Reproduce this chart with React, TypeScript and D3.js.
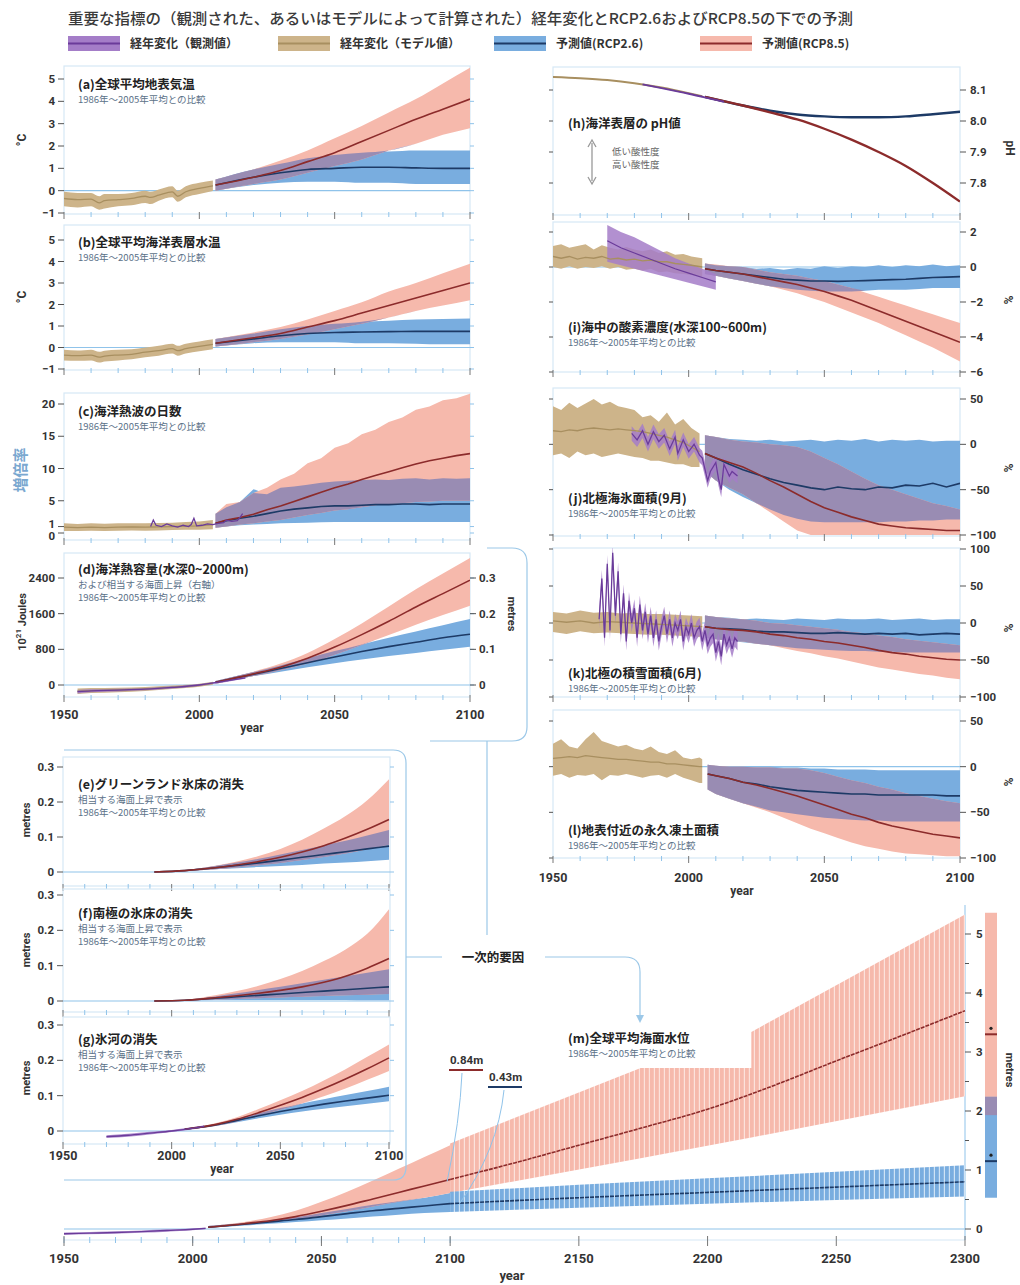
import React from "react";
import * as d3 from "d3";

// ---------------- DATA ----------------
const PROJ10 = [2006, 2020, 2030, 2040, 2050, 2060, 2070, 2080, 2090, 2100];
const PROJ5 = [2006, 2010, 2015, 2020, 2025, 2030, 2035, 2040, 2045, 2050, 2055, 2060, 2065, 2070, 2075, 2080, 2085, 2090, 2095, 2100];

// (a) global mean surface air temperature (°C)
const A_HIST_YEARS = [1950, 1955, 1960, 1963, 1965, 1970, 1975, 1980, 1982, 1985, 1990, 1992, 1995, 2000, 2005];
const A_HIST_MID = [-0.35, -0.4, -0.38, -0.55, -0.45, -0.4, -0.35, -0.25, -0.3, -0.2, -0.05, -0.25, -0.05, 0.1, 0.22];
const A_HIST_LO = [-0.7, -0.75, -0.7, -0.85, -0.8, -0.7, -0.65, -0.55, -0.6, -0.45, -0.3, -0.5, -0.3, -0.15, -0.02];
const A_HIST_HI = [-0.05, -0.1, -0.1, -0.25, -0.15, -0.15, -0.1, 0.0, -0.05, 0.05, 0.2, 0.0, 0.2, 0.35, 0.45];
const A_R85_MID = [0.25, 0.6, 0.9, 1.3, 1.7, 2.2, 2.7, 3.2, 3.65, 4.1];
const A_R85_LO = [0.0, 0.3, 0.5, 0.8, 1.1, 1.4, 1.8, 2.1, 2.5, 2.8];
const A_R85_HI = [0.5, 0.95, 1.35, 1.8, 2.35, 2.9, 3.5, 4.1, 4.8, 5.5];
const A_R26_MID = [0.25, 0.6, 0.8, 0.95, 1.0, 1.05, 1.05, 1.02, 1.0, 1.0];
const A_R26_LO = [0.0, 0.25, 0.35, 0.4, 0.4, 0.35, 0.35, 0.3, 0.3, 0.3];
const A_R26_HI = [0.5, 0.95, 1.2, 1.45, 1.6, 1.7, 1.75, 1.8, 1.8, 1.8];

// (b) global mean SST (°C)
const B_HIST_YEARS = [1950, 1955, 1960, 1963, 1965, 1970, 1975, 1980, 1985, 1990, 1992, 1995, 2000, 2005];
const B_HIST_MID = [-0.35, -0.38, -0.35, -0.45, -0.4, -0.35, -0.32, -0.22, -0.15, -0.05, -0.15, -0.05, 0.05, 0.15];
const B_HIST_LO = [-0.6, -0.62, -0.6, -0.7, -0.65, -0.6, -0.55, -0.45, -0.38, -0.28, -0.38, -0.28, -0.18, -0.08];
const B_HIST_HI = [-0.1, -0.14, -0.1, -0.2, -0.15, -0.1, -0.08, 0.0, 0.08, 0.18, 0.08, 0.18, 0.28, 0.38];
const B_R85_MID = [0.2, 0.45, 0.65, 0.95, 1.25, 1.6, 1.95, 2.3, 2.65, 3.0];
const B_R85_LO = [0.05, 0.25, 0.4, 0.6, 0.85, 1.1, 1.4, 1.7, 1.95, 2.2];
const B_R85_HI = [0.4, 0.7, 0.95, 1.3, 1.7, 2.1, 2.6, 3.0, 3.45, 3.9];
const B_R26_MID = [0.2, 0.4, 0.55, 0.65, 0.7, 0.72, 0.74, 0.75, 0.75, 0.75];
const B_R26_LO = [0.05, 0.2, 0.25, 0.25, 0.25, 0.2, 0.2, 0.18, 0.15, 0.15];
const B_R26_HI = [0.4, 0.65, 0.85, 1.0, 1.1, 1.2, 1.25, 1.3, 1.33, 1.35];

// (c) marine heatwave days (amplification factor)
const C_HIST_YEARS = [1950, 1955, 1960, 1965, 1970, 1975, 1980, 1985, 1990, 1995, 2000, 2005];
const C_HIST_MID = [0.9, 0.85, 0.9, 0.85, 0.9, 0.95, 0.9, 0.95, 1.0, 1.05, 1.1, 1.3];
const C_HIST_LO = [0.3, 0.3, 0.35, 0.3, 0.35, 0.4, 0.35, 0.4, 0.45, 0.5, 0.5, 0.6];
const C_HIST_HI = [1.5, 1.4, 1.5, 1.45, 1.5, 1.5, 1.5, 1.55, 1.6, 1.7, 1.8, 2.0];
const C_OBS_YEARS = [1982, 1983, 1984, 1986, 1988, 1990, 1992, 1994, 1996, 1997, 1998, 1999, 2001, 2003, 2005, 2007, 2009, 2010, 2012, 2014, 2015, 2016];
const C_OBS_MID = [1.0, 2.0, 1.2, 1.0, 1.4, 1.1, 0.9, 1.2, 1.0, 1.3, 2.3, 1.1, 1.2, 1.4, 1.3, 1.5, 1.6, 2.0, 1.8, 1.9, 2.4, 3.0];
const C_R85_MID = [1.5, 2.0, 2.4, 2.9, 3.6, 4.2, 4.9, 5.6, 6.3, 7.0, 7.6, 8.3, 8.9, 9.5, 10.1, 10.7, 11.2, 11.6, 12.0, 12.3];
const C_R85_LO = [0.8, 1.0, 1.3, 1.5, 1.8, 2.0, 2.4, 2.8, 3.1, 3.5, 3.7, 4.0, 4.3, 4.5, 4.6, 4.8, 4.9, 5.0, 5.0, 5.0];
const C_R85_HI = [3.0, 4.5, 4.8, 6.2, 7.0, 8.3, 9.2, 10.8, 11.6, 13.2, 13.9, 15.3, 16.0, 17.2, 17.9, 19.1, 19.6, 20.6, 20.9, 21.6];
const C_R26_MID = [1.5, 1.9, 2.3, 2.6, 3.0, 3.4, 3.7, 3.9, 4.1, 4.2, 4.2, 4.3, 4.4, 4.4, 4.5, 4.5, 4.4, 4.5, 4.5, 4.5];
const C_R26_LO = [0.8, 1.0, 1.2, 1.3, 1.4, 1.5, 1.55, 1.6, 1.65, 1.7, 1.7, 1.7, 1.7, 1.7, 1.7, 1.7, 1.7, 1.7, 1.7, 1.7];
const C_R26_HI = [3.0, 4.0, 4.8, 6.8, 6.0, 7.0, 7.2, 7.5, 7.8, 8.0, 8.1, 8.2, 8.3, 8.2, 8.4, 8.5, 8.3, 8.5, 8.4, 8.5];

// (d) ocean heat content 0-2000m (10^21 J) and equivalent sea level (m, right axis)
const D_HIST_YEARS = [1955, 1960, 1970, 1980, 1990, 2000, 2005];
const D_HIST_MID = [-140, -125, -110, -90, -50, -5, 40];
const D_HIST_LO = [-200, -180, -160, -135, -90, -40, 5];
const D_HIST_HI = [-80, -70, -60, -45, -10, 30, 75];
const D_OBS_YEARS = [1955, 1960, 1970, 1980, 1990, 2000, 2010, 2017];
const D_OBS_MID = [-150, -130, -115, -95, -55, 0, 90, 160];
const D_OBS_LO = [-190, -165, -145, -120, -80, -20, 70, 140];
const D_OBS_HI = [-110, -95, -85, -70, -30, 20, 110, 180];
const D_R85_MID = [60, 250, 400, 600, 850, 1130, 1430, 1750, 2050, 2350];
const D_R85_LO = [30, 200, 330, 480, 680, 900, 1120, 1350, 1570, 1780];
const D_R85_HI = [90, 300, 480, 720, 1030, 1380, 1760, 2150, 2500, 2850];
const D_R26_MID = [60, 240, 370, 500, 630, 750, 860, 960, 1060, 1140];
const D_R26_LO = [30, 200, 300, 400, 490, 570, 650, 720, 790, 860];
const D_R26_HI = [90, 290, 440, 600, 760, 910, 1060, 1200, 1340, 1480];
const D_METRE_TICKS = [0, 0.1, 0.2, 0.3];

// (e) Greenland, (f) Antarctic ice sheet (m sea-level equivalent)
const EF_YEARS = [1992, 2006, 2020, 2030, 2040, 2050, 2060, 2070, 2080, 2090, 2100];
const E_R85_MID = [0, 0.004, 0.012, 0.02, 0.03, 0.042, 0.057, 0.075, 0.097, 0.122, 0.15];
const E_R85_LO = [0, 0.003, 0.008, 0.013, 0.019, 0.026, 0.034, 0.043, 0.053, 0.065, 0.078];
const E_R85_HI = [0, 0.005, 0.018, 0.03, 0.046, 0.066, 0.092, 0.124, 0.16, 0.205, 0.265];
const E_R26_MID = [0, 0.004, 0.012, 0.019, 0.026, 0.034, 0.042, 0.05, 0.058, 0.066, 0.074];
const E_R26_LO = [0, 0.003, 0.008, 0.011, 0.014, 0.017, 0.02, 0.024, 0.027, 0.031, 0.035];
const E_R26_HI = [0, 0.005, 0.017, 0.027, 0.038, 0.05, 0.063, 0.076, 0.089, 0.104, 0.12];
const F_R85_MID = [0, 0.002, 0.009, 0.015, 0.022, 0.03, 0.04, 0.053, 0.07, 0.093, 0.12];
const F_R85_LO = [0, 0.001, 0.004, 0.006, 0.008, 0.01, 0.012, 0.014, 0.016, 0.018, 0.02];
const F_R85_HI = [0, 0.003, 0.016, 0.028, 0.043, 0.062, 0.085, 0.113, 0.146, 0.19, 0.26];
const F_R26_MID = [0, 0.002, 0.008, 0.012, 0.016, 0.02, 0.024, 0.028, 0.032, 0.036, 0.04];
const F_R26_LO = [0, 0.001, 0.003, 0.003, 0.003, 0.003, 0.003, 0.003, 0.003, 0.002, 0.002];
const F_R26_HI = [0, 0.003, 0.013, 0.022, 0.031, 0.04, 0.05, 0.06, 0.07, 0.08, 0.09];

// (g) glaciers
const G_OBS_YEARS = [1970, 1980, 1990, 2000, 2010, 2015];
const G_OBS_MID = [-0.016, -0.012, -0.006, 0, 0.008, 0.013];
const G_OBS_LO = [-0.02, -0.016, -0.01, -0.003, 0.005, 0.01];
const G_OBS_HI = [-0.012, -0.008, -0.002, 0.003, 0.011, 0.016];
const G_R85_MID = [0.005, 0.018, 0.033, 0.052, 0.073, 0.095, 0.12, 0.147, 0.176, 0.207];
const G_R85_LO = [0.004, 0.014, 0.027, 0.043, 0.06, 0.078, 0.098, 0.12, 0.145, 0.17];
const G_R85_HI = [0.006, 0.022, 0.039, 0.062, 0.087, 0.113, 0.143, 0.175, 0.21, 0.245];
const G_R26_MID = [0.005, 0.017, 0.03, 0.043, 0.055, 0.066, 0.076, 0.085, 0.093, 0.101];
const G_R26_LO = [0.004, 0.014, 0.025, 0.036, 0.046, 0.055, 0.063, 0.07, 0.077, 0.084];
const G_R26_HI = [0.006, 0.02, 0.035, 0.05, 0.065, 0.078, 0.09, 0.102, 0.113, 0.125];

// (h) surface ocean pH
const H_HIST_YEARS = [1950, 1960, 1970, 1980, 1990, 2000, 2005];
const H_HIST_MID = [8.142, 8.138, 8.132, 8.122, 8.108, 8.09, 8.08];
const H_OBS_YEARS = [1983, 1990, 2000, 2010, 2013];
const H_OBS_MID = [8.118, 8.106, 8.088, 8.068, 8.062];
const H_R26_MID = [8.078, 8.05, 8.033, 8.021, 8.015, 8.012, 8.012, 8.015, 8.022, 8.03];
const H_R85_MID = [8.078, 8.05, 8.028, 8.005, 7.975, 7.94, 7.9, 7.855, 7.8, 7.74];

// (i) ocean oxygen 100-600 m (%)
const I_HIST_YEARS = [1950, 1953, 1956, 1959, 1962, 1965, 1968, 1971, 1974, 1977, 1980, 1983, 1986, 1989, 1992, 1995, 1998, 2001, 2005];
const I_HIST_MID = [0.6, 0.5, 0.6, 0.45, 0.55, 0.5, 0.6, 0.45, 0.5, 0.4, 0.45, 0.35, 0.4, 0.3, 0.3, 0.2, 0.15, 0.1, 0.0];
const I_HIST_LO = [0.0, -0.1, 0.05, -0.1, 0.0, -0.05, 0.05, -0.1, 0.0, -0.15, -0.1, -0.2, -0.1, -0.3, -0.25, -0.35, -0.4, -0.45, -0.55];
const I_HIST_HI = [1.2, 1.3, 1.1, 1.2, 1.3, 1.0, 1.25, 1.1, 1.0, 1.15, 1.0, 0.9, 1.0, 0.8, 0.9, 0.7, 0.75, 0.6, 0.5];
const I_OBS_YEARS = [1970, 1975, 1980, 1985, 1990, 1995, 2000, 2005, 2010];
const I_OBS_MID = [1.5, 1.1, 0.8, 0.5, 0.2, -0.1, -0.35, -0.6, -0.85];
const I_OBS_LO = [0.3, 0.1, -0.1, -0.3, -0.5, -0.7, -0.9, -1.1, -1.3];
const I_OBS_HI = [2.4, 2.0, 1.7, 1.3, 0.9, 0.5, 0.2, -0.1, -0.4];
const I_R85_MID = [-0.1, -0.2, -0.3, -0.4, -0.55, -0.7, -0.85, -1.0, -1.2, -1.4, -1.65, -1.9, -2.2, -2.5, -2.8, -3.1, -3.4, -3.7, -4.0, -4.3];
const I_R85_LO = [-0.4, -0.5, -0.65, -0.8, -0.95, -1.1, -1.3, -1.5, -1.75, -2.0, -2.3, -2.6, -2.9, -3.2, -3.55, -3.9, -4.25, -4.6, -5.0, -5.4];
const I_R85_HI = [0.2, 0.15, 0.05, 0.0, -0.15, -0.3, -0.4, -0.5, -0.65, -0.8, -1.0, -1.2, -1.45, -1.7, -1.95, -2.2, -2.45, -2.7, -2.95, -3.2];
const I_R26_MID = [-0.1, -0.2, -0.3, -0.4, -0.5, -0.6, -0.7, -0.75, -0.8, -0.8, -0.82, -0.8, -0.78, -0.75, -0.72, -0.7, -0.65, -0.6, -0.58, -0.55];
const I_R26_LO = [-0.4, -0.5, -0.65, -0.8, -0.95, -1.1, -1.2, -1.3, -1.35, -1.4, -1.4, -1.4, -1.35, -1.3, -1.3, -1.3, -1.25, -1.2, -1.2, -1.2];
const I_R26_HI = [0.2, 0.1, 0.05, 0.0, -0.1, -0.05, -0.15, -0.05, -0.1, 0.05, -0.05, 0.05, 0.0, 0.1, 0.0, 0.1, 0.05, 0.15, 0.05, 0.1];

// (j) Arctic sea ice extent, September (%)
const J_HIST_YEARS = [1950, 1953, 1956, 1959, 1962, 1965, 1968, 1971, 1974, 1977, 1980, 1983, 1986, 1989, 1992, 1995, 1998, 2001, 2004];
const J_HIST_MID = [15, 14, 16, 15, 17, 18, 17, 16, 17, 16, 15, 14, 12, 10, 8, 5, 2, -3, -8];
const J_HIST_LO = [-12, -10, -15, -8, -12, -10, -14, -12, -10, -12, -14, -15, -18, -18, -20, -22, -22, -25, -25];
const J_HIST_HI = [42, 38, 46, 40, 45, 50, 44, 47, 42, 40, 38, 30, 32, 25, 35, 22, 28, 18, 12];
const J_OBS_YEARS = [1979, 1981, 1983, 1985, 1987, 1989, 1991, 1993, 1995, 1996, 1998, 2000, 2002, 2004, 2005, 2007, 2008, 2010, 2011, 2012, 2013, 2015, 2016, 2018];
const J_OBS_MID = [12, 5, 15, 0, 14, 3, 10, -5, 8, -10, 5, -8, 0, -12, -15, -40, -30, -20, -38, -50, -22, -35, -30, -35];
const J_OBS_SPREAD = 8;
const J_R85_MID = [-10, -15, -20, -25, -32, -40, -47, -55, -63, -70, -75, -80, -84, -88, -90, -92, -93, -94, -95, -95];
const J_R85_LO = [-30, -40, -48, -55, -65, -75, -85, -95, -100, -100, -100, -100, -100, -100, -100, -100, -100, -100, -100, -100];
const J_R85_HI = [10, 8, 5, 3, 2, 0, -1, -3, -8, -15, -22, -30, -38, -45, -50, -55, -60, -65, -68, -72];
const J_R26_MID = [-10, -15, -22, -28, -33, -38, -42, -45, -48, -50, -47, -49, -50, -47, -48, -45, -46, -43, -47, -43];
const J_R26_LO = [-30, -40, -50, -58, -65, -72, -78, -82, -85, -86, -86, -86, -86, -86, -85, -85, -84, -84, -83, -83];
const J_R26_HI = [10, 8, 6, 5, 4, 5, 3, 4, 5, 3, 5, 4, 6, 3, 5, 4, 5, 3, 4, 4];

// (k) Northern Hemisphere snow cover, June (%)
const K_HIST_YEARS = [1950, 1955, 1960, 1965, 1970, 1975, 1980, 1985, 1990, 1995, 2000, 2005];
const K_HIST_MID = [3, 1, 3, 0, 2, 1, 0, -1, -2, -3, -4, -5];
const K_HIST_LO = [-12, -15, -11, -14, -13, -14, -15, -16, -16, -17, -18, -19];
const K_HIST_HI = [15, 13, 17, 14, 15, 13, 14, 12, 12, 11, 10, 9];
const K_OBS_YEARS = d3.range(1967, 2019);
const K_OBS_MID = [5, 60, -20, 80, -10, 95, 10, 70, -15, 40, -25, 30, 0, 20, -20, 25, -10, 15, -15, 10, -20, 5, -25, -5, 10, -15, 5, -20, 0, -10, 5, -25, -5, -15, 0, -20, -10, -5, -25, -10, -30, -20, -15, -40, -25, -45, -15, -30, -20, -35, -20, -25];
const K_OBS_SPREAD = 12;
const K_R85_MID = [-5, -7, -9, -10, -12, -15, -17, -20, -22, -25, -27, -30, -33, -37, -40, -42, -45, -47, -49, -50];
const K_R85_LO = [-20, -22, -24, -25, -28, -30, -34, -38, -41, -45, -48, -52, -56, -60, -63, -66, -69, -71, -74, -76];
const K_R85_HI = [10, 8, 6, 5, 3, 0, -1, -3, -5, -7, -9, -12, -14, -17, -19, -22, -24, -26, -28, -30];
const K_R26_MID = [-5, -7, -8, -9, -11, -12, -12, -13, -14, -14, -13, -14, -15, -14, -15, -14, -16, -15, -14, -15];
const K_R26_LO = [-20, -22, -24, -26, -28, -30, -32, -34, -35, -36, -37, -38, -38, -39, -39, -40, -40, -40, -40, -40];
const K_R26_HI = [10, 8, 7, 5, 6, 5, 4, 6, 5, 4, 6, 5, 5, 6, 4, 5, 6, 4, 5, 5];

// (l) near-surface permafrost area (%)
const L_HIST_YEARS = [1950, 1953, 1956, 1959, 1962, 1965, 1968, 1971, 1974, 1977, 1980, 1983, 1986, 1989, 1992, 1995, 1998, 2001, 2004, 2005];
const L_HIST_MID = [9, 10, 11, 10, 12, 11, 10, 9, 8, 8, 7, 6, 5, 5, 3, 3, 2, 1, 0, 0];
const L_HIST_LO = [-10, -8, -12, -9, -10, -8, -15, -9, -10, -8, -10, -12, -10, -9, -12, -8, -12, -15, -18, -18];
const L_HIST_HI = [25, 30, 22, 20, 30, 38, 28, 25, 22, 24, 20, 18, 22, 16, 14, 18, 10, 8, 10, 8];
const L_PROJ_YEARS = [2007, 2010, 2015, 2020, 2025, 2030, 2035, 2040, 2045, 2050, 2055, 2060, 2065, 2070, 2075, 2080, 2085, 2090, 2095, 2100];
const L_R85_MID = [-8, -10, -13, -17, -20, -24, -28, -32, -37, -42, -47, -52, -56, -61, -65, -68, -71, -74, -76, -78];
const L_R85_LO = [-25, -30, -35, -40, -45, -50, -56, -62, -68, -73, -78, -83, -87, -90, -93, -95, -96, -97, -98, -98];
const L_R85_HI = [2, 1, 0, 0, -1, -1, -2, -2, -4, -7, -11, -15, -18, -22, -25, -29, -32, -35, -38, -40];
const L_R26_MID = [-8, -10, -13, -17, -19, -22, -24, -26, -27, -28, -29, -30, -30, -31, -31, -31, -31, -31, -32, -32];
const L_R26_LO = [-25, -30, -35, -40, -44, -48, -50, -52, -54, -56, -57, -58, -59, -59, -60, -60, -60, -60, -60, -60];
const L_R26_HI = [2, 1, 0, 0, 0, 0, -1, -1, -2, -2, -3, -3, -3, -4, -4, -4, -4, -4, -4, -4];

// (m) global mean sea level (m)
const M_HIST_YEARS = [1950, 1960, 1970, 1980, 1990, 2000, 2005];
const M_HIST_MID = [-0.08, -0.07, -0.06, -0.045, -0.025, -0.005, 0.01];
const M_HIST_LO = [-0.1, -0.09, -0.08, -0.065, -0.045, -0.02, -0.005];
const M_HIST_HI = [-0.06, -0.05, -0.04, -0.025, -0.005, 0.01, 0.025];
const M_R85_MID = [0.03, 0.09, 0.14, 0.21, 0.3, 0.4, 0.51, 0.62, 0.73, 0.84];
const M_R85_LO = [0.02, 0.07, 0.11, 0.16, 0.23, 0.3, 0.38, 0.46, 0.53, 0.61];
const M_R85_HI = [0.05, 0.12, 0.2, 0.31, 0.46, 0.63, 0.82, 1.02, 1.22, 1.42];
const M_R26_MID = [0.03, 0.08, 0.12, 0.16, 0.21, 0.26, 0.31, 0.35, 0.39, 0.43];
const M_R26_LO = [0.02, 0.06, 0.09, 0.12, 0.15, 0.18, 0.21, 0.24, 0.27, 0.29];
const M_R26_HI = [0.05, 0.1, 0.15, 0.2, 0.27, 0.34, 0.41, 0.47, 0.53, 0.61];
const M_R85X_YEARS = [2100, 2174, 2217, 2217, 2300];
const M_R85X_LO = [0.61, 1.2, 1.55, 1.55, 2.25];
const M_R85X_HI = [1.45, 2.73, 2.73, 3.34, 5.33];
const M_R85XM_YEARS = [2100, 2125, 2150, 2175, 2200, 2225, 2250, 2275, 2300];
const M_R85XM_MID = [0.84, 1.12, 1.42, 1.72, 2.03, 2.42, 2.85, 3.27, 3.7];
const M_R26X_YEARS = [2100, 2150, 2200, 2250, 2300];
const M_R26X_MID = [0.43, 0.53, 0.62, 0.71, 0.8];
const M_R26X_LO = [0.29, 0.36, 0.43, 0.49, 0.55];
const M_R26X_HI = [0.63, 0.75, 0.86, 0.97, 1.08];
const M_BAR_R85 = [1.93, 5.36];
const M_BAR_R26 = [0.53, 2.24];
const M_BAR_MED = [3.3, 1.15];
const M_LABELS = ["0.84m", "0.43m"];

const LEGEND = ["経年変化（観測値）", "経年変化（モデル値）", "予測値(RCP2.6)", "予測値(RCP8.5)"];
const TITLE = "重要な指標の（観測された、あるいはモデルによって計算された）経年変化とRCP2.6およびRCP8.5の下での予測";
const SUB = "1986年～2005年平均との比較";
const SLR = "相当する海面上昇で表示";

// ---------------- STYLE ----------------
const COL = {
  histBand: "#cdb48a", histLine: "#a88f60",
  obsBand: "#a47dc8", obsLine: "#6a3b9a",
  r26Band: "#79addf", r26Line: "#1d3a66",
  r85Band: "#f6b9ac", r85Line: "#8c2b2b",
  overlap: "#998cb3",
  frame: "#d6e8f6", zero: "#8fc3ea", tick: "#555", text: "#333", sub: "#5b7188",
};
const JP = "'Noto Sans CJK JP', 'Noto Sans', sans-serif";
const NUM = "'Liberation Sans Narrow', Roboto, 'Noto Sans', sans-serif";

type S = { years: number[]; mid?: number[]; lo?: number[]; hi?: number[] };
type Spec = {
  id: string;
  frame: [number, number, number, number];
  xr: [number, number];
  xd: [number, number];
  yd: [number, number];
  yr: [number, number];
  curve: any;
  hist?: S; obs?: S; r26?: S; r85?: S;
  zero?: number;
  yTicks: number[];
  side: "left" | "right";
  fmt?: (v: number) => string;
  yearLabelsY?: number;
  lineW?: number;
  labelNudge?: Record<string, number>;
};

const fmtMinus = (v: number) => (v < 0 ? "−" + Math.abs(v) : String(v));

function areaPath(xs: any, ys: any, years: number[], lo: number[], hi: number[], curve: any) {
  return d3.area<number>().x((i) => xs(years[i])).y0((i) => ys(lo[i])).y1((i) => ys(hi[i])).curve(curve)(d3.range(years.length)) || "";
}
function linePath(xs: any, ys: any, years: number[], v: number[], curve: any) {
  return d3.line<number>().x((i) => xs(years[i])).y((i) => ys(v[i])).curve(curve)(d3.range(years.length)) || "";
}
function overlap(a: S, b: S) {
  const lo = (a.lo as number[]).map((v, i) => Math.max(v, (b.lo as number[])[i]));
  const hi = (a.hi as number[]).map((v, i) => Math.max(lo[i], Math.min(v, (b.hi as number[])[i])));
  return { years: a.years, lo, hi };
}

function Panel({ s }: { s: Spec }) {
  const xs = d3.scaleLinear().domain(s.xd).range(s.xr);
  const ys = d3.scaleLinear().domain(s.yd).range(s.yr);
  const [x0, y0, x1, y1] = s.frame;
  const ov = s.r26 && s.r85 && s.r26.lo && s.r85.lo ? overlap(s.r26, s.r85) : null;
  const decades = d3.range(s.xd[0], s.xd[1] + 1, 10);
  const fmt = s.fmt || fmtMinus;
  const lw = s.lineW || 1.6;
  const band = (ser: S | undefined, fill: string, op = 1) =>
    ser && ser.lo && ser.hi ? <path d={areaPath(xs, ys, ser.years, ser.lo, ser.hi, s.curve)} fill={fill} opacity={op} /> : null;
  const line = (ser: S | undefined, stroke: string, w: number) =>
    ser && ser.mid ? <path d={linePath(xs, ys, ser.years, ser.mid, s.curve)} fill="none" stroke={stroke} strokeWidth={w} /> : null;
  return (
    <g>
      <clipPath id={"clip" + s.id}>
        <rect x={x0} y={y0} width={x1 - x0} height={y1 - y0} />
      </clipPath>
      <rect x={x0} y={y0} width={x1 - x0} height={y1 - y0} fill="none" stroke={COL.frame} strokeWidth={1.2} />
      {s.zero !== undefined && (
        <line x1={x0} x2={x1} y1={ys(s.zero)} y2={ys(s.zero)} stroke={COL.zero} strokeWidth={1.1} />
      )}
      <g clipPath={`url(#clip${s.id})`}>
        {band(s.hist, COL.histBand)}
        {band(s.r26, COL.r26Band)}
        {band(s.r85, COL.r85Band)}
        {ov && <path d={areaPath(xs, ys, ov.years, ov.lo, ov.hi, s.curve)} fill={COL.overlap} />}
        {band(s.obs, COL.obsBand, 0.85)}
        {line(s.hist, COL.histLine, lw * 0.8)}
        {line(s.r26, COL.r26Line, lw)}
        {line(s.r85, COL.r85Line, lw)}
        {line(s.obs, COL.obsLine, lw * 0.8)}
      </g>
      {s.yTicks.map((t) => {
        const y = ys(t);
        const ny = (s.labelNudge && s.labelNudge[String(t)]) || 0;
        return s.side === "left" ? (
          <g key={t}>
            <line x1={x0 - 6} x2={x0} y1={y} y2={y} stroke={COL.tick} strokeWidth={1} />
            <line x1={x1} x2={x1 + 4} y1={y} y2={y} stroke={COL.zero} strokeWidth={1} />
            <text x={x0 - 9} y={y + ny} dy="0.35em" textAnchor="end" fontSize={11.5} fontWeight={700} fontFamily={NUM} fill={COL.text}>
              {fmt(t)}
            </text>
          </g>
        ) : (
          <g key={t}>
            <line x1={x1} x2={x1 + 6} y1={y} y2={y} stroke={COL.tick} strokeWidth={1} />
            <line x1={x0 - 4} x2={x0} y1={y} y2={y} stroke={COL.tick} strokeWidth={1} />
            <text x={x1 + 10} y={y + ny} dy="0.35em" textAnchor="start" fontSize={11.5} fontWeight={700} fontFamily={NUM} fill={COL.text}>
              {fmt(t)}
            </text>
          </g>
        );
      })}
      {decades.map((yr) => (
        <line key={yr} x1={xs(yr)} x2={xs(yr)} y1={y1 - 2} y2={y1 + (yr % 50 === 0 ? 5 : 3)}
          stroke={yr % 50 === 0 ? "#777" : COL.zero} strokeWidth={1} />
      ))}
      {s.yearLabelsY !== undefined &&
        decades.filter((yr) => yr % 50 === 0).map((yr) => (
          <text key={"l" + yr} x={xs(yr)} y={s.yearLabelsY} textAnchor="middle" fontSize={12.5} fontWeight={700} fontFamily={NUM} fill={COL.text}>
            {yr}
          </text>
        ))}
    </g>
  );
}

function Title({ x, y, t, subs }: { x: number; y: number; t: string; subs: string[] }) {
  return (
    <g fontFamily={JP}>
      <text x={x} y={y} fontSize={12.5} fontWeight={700} fill="#222">{t}</text>
      {subs.map((s, i) => (
        <text key={i} x={x} y={y + 14 + i * 13} fontSize={9.5} fill={COL.sub}>{s}</text>
      ))}
    </g>
  );
}

function VLabel({ x, y, t, rot = -90, color = COL.text, size = 12, font = NUM }: any) {
  return (
    <text transform={`translate(${x},${y}) rotate(${rot})`} textAnchor="middle" fontSize={size} fontWeight={700} fontFamily={font} fill={color}>
      {t}
    </text>
  );
}

const LX: [number, number] = [64, 470];
const RX: [number, number] = [553, 960];
const EX: [number, number] = [63, 389];
const XD: [number, number] = [1950, 2100];
const sm = d3.curveMonotoneX;
const lin = d3.curveLinear;

const SPECS: Spec[] = [
  { id: "a", frame: [64, 66, 470, 214], xr: LX, xd: XD, yd: [-1, 5], yr: [213, 79], curve: sm, zero: 0, yTicks: [-1, 0, 1, 2, 3, 4, 5], side: "left",
    hist: { years: A_HIST_YEARS, mid: A_HIST_MID, lo: A_HIST_LO, hi: A_HIST_HI },
    r26: { years: PROJ10, mid: A_R26_MID, lo: A_R26_LO, hi: A_R26_HI }, r85: { years: PROJ10, mid: A_R85_MID, lo: A_R85_LO, hi: A_R85_HI } },
  { id: "b", frame: [64, 225, 470, 370], xr: LX, xd: XD, yd: [-1, 5], yr: [369, 240], curve: sm, zero: 0, yTicks: [-1, 0, 1, 2, 3, 4, 5], side: "left",
    hist: { years: B_HIST_YEARS, mid: B_HIST_MID, lo: B_HIST_LO, hi: B_HIST_HI },
    r26: { years: PROJ10, mid: B_R26_MID, lo: B_R26_LO, hi: B_R26_HI }, r85: { years: PROJ10, mid: B_R85_MID, lo: B_R85_LO, hi: B_R85_HI } },
  { id: "c", frame: [64, 393, 470, 540], xr: LX, xd: XD, yd: [0, 20], yr: [533, 404], curve: lin, yTicks: [0, 1, 5, 10, 15, 20], side: "left",
    labelNudge: { "1": -3, "0": 3 },
    hist: { years: C_HIST_YEARS, mid: C_HIST_MID, lo: C_HIST_LO, hi: C_HIST_HI },
    obs: { years: C_OBS_YEARS, mid: C_OBS_MID },
    r26: { years: PROJ5, mid: C_R26_MID, lo: C_R26_LO, hi: C_R26_HI }, r85: { years: PROJ5, mid: C_R85_MID, lo: C_R85_LO, hi: C_R85_HI } },
  { id: "d", frame: [64, 553, 470, 697], xr: LX, xd: XD, yd: [0, 2400], yr: [685, 578], curve: sm, zero: 0, yTicks: [0, 800, 1600, 2400], side: "left", yearLabelsY: 719,
    hist: { years: D_HIST_YEARS, mid: D_HIST_MID, lo: D_HIST_LO, hi: D_HIST_HI },
    obs: { years: D_OBS_YEARS, mid: D_OBS_MID, lo: D_OBS_LO, hi: D_OBS_HI },
    r26: { years: PROJ10, mid: D_R26_MID, lo: D_R26_LO, hi: D_R26_HI }, r85: { years: PROJ10, mid: D_R85_MID, lo: D_R85_LO, hi: D_R85_HI } },
  { id: "e", frame: [63, 757, 390, 886], xr: EX, xd: XD, yd: [0, 0.3], yr: [872, 767], curve: sm, zero: 0, yTicks: [0, 0.1, 0.2, 0.3], side: "left",
    r26: { years: EF_YEARS, mid: E_R26_MID, lo: E_R26_LO, hi: E_R26_HI }, r85: { years: EF_YEARS, mid: E_R85_MID, lo: E_R85_LO, hi: E_R85_HI } },
  { id: "f", frame: [63, 889, 390, 1012], xr: EX, xd: XD, yd: [0, 0.3], yr: [1001, 895], curve: sm, zero: 0, yTicks: [0, 0.1, 0.2, 0.3], side: "left",
    r26: { years: EF_YEARS, mid: F_R26_MID, lo: F_R26_LO, hi: F_R26_HI }, r85: { years: EF_YEARS, mid: F_R85_MID, lo: F_R85_LO, hi: F_R85_HI } },
  { id: "g", frame: [63, 1017, 390, 1144], xr: EX, xd: XD, yd: [0, 0.3], yr: [1131, 1025], curve: sm, zero: 0, yTicks: [0, 0.1, 0.2, 0.3], side: "left", yearLabelsY: 1160,
    obs: { years: G_OBS_YEARS, mid: G_OBS_MID, lo: G_OBS_LO, hi: G_OBS_HI },
    r26: { years: PROJ10, mid: G_R26_MID, lo: G_R26_LO, hi: G_R26_HI }, r85: { years: PROJ10, mid: G_R85_MID, lo: G_R85_LO, hi: G_R85_HI } },
  { id: "h", frame: [553, 67, 960, 215], xr: RX, xd: XD, yd: [7.8, 8.1], yr: [183, 90], curve: sm, yTicks: [7.8, 7.9, 8.0, 8.1], side: "right", fmt: (v) => v.toFixed(1), lineW: 2.4,
    hist: { years: H_HIST_YEARS, mid: H_HIST_MID }, obs: { years: H_OBS_YEARS, mid: H_OBS_MID },
    r26: { years: PROJ10, mid: H_R26_MID }, r85: { years: PROJ10, mid: H_R85_MID } },
  { id: "i", frame: [553, 222, 960, 372], xr: RX, xd: XD, yd: [-6, 2], yr: [372, 232], curve: lin, zero: 0, yTicks: [-6, -4, -2, 0, 2], side: "right",
    hist: { years: I_HIST_YEARS, mid: I_HIST_MID, lo: I_HIST_LO, hi: I_HIST_HI },
    obs: { years: I_OBS_YEARS, mid: I_OBS_MID, lo: I_OBS_LO, hi: I_OBS_HI },
    r26: { years: PROJ5, mid: I_R26_MID, lo: I_R26_LO, hi: I_R26_HI }, r85: { years: PROJ5, mid: I_R85_MID, lo: I_R85_LO, hi: I_R85_HI } },
  { id: "j", frame: [553, 388, 960, 536], xr: RX, xd: XD, yd: [-100, 50], yr: [535, 399], curve: lin, zero: 0, yTicks: [-100, -50, 0, 50], side: "right",
    hist: { years: J_HIST_YEARS, mid: J_HIST_MID, lo: J_HIST_LO, hi: J_HIST_HI },
    obs: { years: J_OBS_YEARS, mid: J_OBS_MID, lo: J_OBS_MID.map((v) => v - J_OBS_SPREAD), hi: J_OBS_MID.map((v) => v + J_OBS_SPREAD) },
    r26: { years: PROJ5, mid: J_R26_MID, lo: J_R26_LO, hi: J_R26_HI }, r85: { years: PROJ5, mid: J_R85_MID, lo: J_R85_LO, hi: J_R85_HI } },
  { id: "k", frame: [553, 548, 960, 697], xr: RX, xd: XD, yd: [-100, 100], yr: [697, 549], curve: lin, zero: 0, yTicks: [-100, -50, 0, 50, 100], side: "right",
    hist: { years: K_HIST_YEARS, mid: K_HIST_MID, lo: K_HIST_LO, hi: K_HIST_HI },
    obs: { years: K_OBS_YEARS, mid: K_OBS_MID, lo: K_OBS_MID.map((v) => v - K_OBS_SPREAD), hi: K_OBS_MID.map((v) => v + K_OBS_SPREAD) },
    r26: { years: PROJ5, mid: K_R26_MID, lo: K_R26_LO, hi: K_R26_HI }, r85: { years: PROJ5, mid: K_R85_MID, lo: K_R85_LO, hi: K_R85_HI } },
  { id: "l", frame: [553, 710, 960, 858], xr: RX, xd: XD, yd: [-100, 50], yr: [858, 721], curve: lin, zero: 0, yTicks: [-100, -50, 0, 50], side: "right", yearLabelsY: 882,
    hist: { years: L_HIST_YEARS, mid: L_HIST_MID, lo: L_HIST_LO, hi: L_HIST_HI },
    r26: { years: L_PROJ_YEARS, mid: L_R26_MID, lo: L_R26_LO, hi: L_R26_HI }, r85: { years: L_PROJ_YEARS, mid: L_R85_MID, lo: L_R85_LO, hi: L_R85_HI } },
];

function MetreAxisD() {
  const ys = d3.scaleLinear().domain([0, 0.3]).range([685, 578]);
  return (
    <g>
      {D_METRE_TICKS.map((t) => (
        <g key={t}>
          <line x1={470} x2={476} y1={ys(t)} y2={ys(t)} stroke={COL.tick} strokeWidth={1} />
          <text x={479} y={ys(t)} dy="0.35em" fontSize={11.5} fontWeight={700} fontFamily={NUM} fill={COL.text}>{t}</text>
        </g>
      ))}
    </g>
  );
}

function PanelM() {
  const xs = d3.scaleLinear().domain([1950, 2300]).range([64, 965]);
  const ys = d3.scaleLinear().domain([0, 5]).range([1229, 934]);
  const r85 = { years: PROJ10, lo: M_R85_LO, hi: M_R85_HI };
  const r26 = { years: PROJ10, lo: M_R26_LO, hi: M_R26_HI };
  const ov = overlap(r26, r85);
  const minor = d3.range(1950, 2101, 10);
  const major = d3.range(1950, 2301, 50);
  return (
    <g>
      <defs>
        <pattern id="stR" width={5} height={10} patternUnits="userSpaceOnUse">
          <rect width={5} height={10} fill="#fce2dc" />
          <rect width={3.8} height={10} fill={COL.r85Band} />
        </pattern>
        <pattern id="stB" width={5} height={10} patternUnits="userSpaceOnUse">
          <rect width={5} height={10} fill="#cfe3f5" />
          <rect width={3.8} height={10} fill={COL.r26Band} />
        </pattern>
      </defs>
      <line x1={64} x2={965} y1={ys(0)} y2={ys(0)} stroke={COL.zero} strokeWidth={1.1} />
      <line x1={64} x2={965} y1={1240} y2={1240} stroke={COL.frame} strokeWidth={1.2} />
      <line x1={965} x2={965} y1={905} y2={1240} stroke={COL.zero} strokeWidth={1} />
      <path d={areaPath(xs, ys, M_HIST_YEARS, M_HIST_LO, M_HIST_HI, sm)} fill={COL.obsBand} opacity={0.7} />
      <path d={areaPath(xs, ys, PROJ10, M_R26_LO, M_R26_HI, sm)} fill={COL.r26Band} />
      <path d={areaPath(xs, ys, PROJ10, M_R85_LO, M_R85_HI, sm)} fill={COL.r85Band} />
      <path d={areaPath(xs, ys, ov.years, ov.lo, ov.hi, sm)} fill={COL.overlap} />
      <path d={areaPath(xs, ys, M_R85X_YEARS, M_R85X_LO, M_R85X_HI, lin)} fill="url(#stR)" />
      <path d={areaPath(xs, ys, M_R26X_YEARS, M_R26X_LO, M_R26X_HI, lin)} fill="url(#stB)" />
      <path d={linePath(xs, ys, M_HIST_YEARS, M_HIST_MID, sm)} fill="none" stroke={COL.obsLine} strokeWidth={1.4} />
      <path d={linePath(xs, ys, PROJ10, M_R26_MID, sm)} fill="none" stroke={COL.r26Line} strokeWidth={1.6} />
      <path d={linePath(xs, ys, PROJ10, M_R85_MID, sm)} fill="none" stroke={COL.r85Line} strokeWidth={1.6} />
      <path d={linePath(xs, ys, M_R26X_YEARS, M_R26X_MID, sm)} fill="none" stroke={COL.r26Line} strokeWidth={1.6} strokeDasharray="4 1" />
      <path d={linePath(xs, ys, M_R85XM_YEARS, M_R85XM_MID, sm)} fill="none" stroke={COL.r85Line} strokeWidth={1.6} strokeDasharray="4 1" />
      {d3.range(0, 5.01, 0.5).map((t) => (
        <g key={t}>
          <line x1={965} x2={t % 1 === 0 ? 971 : 969} y1={ys(t)} y2={ys(t)} stroke={COL.tick} strokeWidth={1} />
          {t % 1 === 0 && (
            <text x={976} y={ys(t)} dy="0.35em" fontSize={11.5} fontWeight={700} fontFamily={NUM} fill={COL.text}>{t}</text>
          )}
        </g>
      ))}
      {minor.map((yr) => (
        <line key={"m" + yr} x1={xs(yr)} x2={xs(yr)} y1={1237} y2={1243} stroke={COL.zero} strokeWidth={1} />
      ))}
      {major.map((yr) => (
        <g key={"M" + yr}>
          <line x1={xs(yr)} x2={xs(yr)} y1={1236} y2={1246} stroke="#777" strokeWidth={1} />
          <text x={xs(yr)} y={1263} textAnchor="middle" fontSize={13} fontWeight={700} fontFamily={NUM} fill={COL.text}>{yr}</text>
        </g>
      ))}
      {/* right-side likely-range bar for 2300 */}
      <rect x={985} y={ys(M_BAR_R85[1])} width={12} height={ys(M_BAR_R85[0]) - ys(M_BAR_R85[1])} fill={COL.r85Band} />
      <rect x={985} y={ys(M_BAR_R26[1])} width={12} height={ys(M_BAR_R26[0]) - ys(M_BAR_R26[1])} fill={COL.r26Band} />
      <rect x={985} y={ys(M_BAR_R26[1])} width={12} height={ys(M_BAR_R85[0]) - ys(M_BAR_R26[1])} fill={COL.overlap} />
      {M_BAR_MED.map((m, i) => (
        <g key={i}>
          <line x1={985} x2={997} y1={ys(m)} y2={ys(m)} stroke={i === 0 ? COL.r85Line : COL.r26Line} strokeWidth={2} />
          <circle cx={991} cy={ys(m) - 6} r={1.6} fill="#222" />
        </g>
      ))}
      {/* 2100 value labels */}
      <text x={450} y={1064} fontSize={11.5} fontWeight={700} fontFamily={NUM} fill={COL.text}>{M_LABELS[0]}</text>
      <line x1={449} x2={483} y1={1070} y2={1070} stroke={COL.r85Line} strokeWidth={2} />
      <text x={489} y={1081} fontSize={11.5} fontWeight={700} fontFamily={NUM} fill={COL.text}>{M_LABELS[1]}</text>
      <line x1={488} x2={522} y1={1087} y2={1087} stroke={COL.r26Line} strokeWidth={2} />
      <path d={`M462,1073 Q460,1120 ${xs(2100) - 3},${ys(0.84) + 2}`} fill="none" stroke={COL.zero} strokeWidth={1} />
      <path d={`M504,1090 Q498,1150 ${xs(2100) + 8},${ys(0.43) + 2}`} fill="none" stroke={COL.zero} strokeWidth={1} />
    </g>
  );
}

export default function App() {
  const legendX = [68, 278, 494, 700];
  const legendBand = [COL.obsBand, COL.histBand, COL.r26Band, COL.r85Band];
  const legendLine = [COL.obsLine, COL.histLine, COL.r26Line, COL.r85Line];
  return (
    <svg width={1020} height={1285} style={{ display: "block", position: "absolute", left: 0, top: 0, background: "#fff" }}>
      <rect width={1020} height={1285} fill="#fff" />
      <text x={68} y={24} fontSize={15} fontFamily={JP} fill="#3a3a3a" fontWeight={500} textLength={785} lengthAdjust="spacingAndGlyphs">{TITLE}</text>
      {LEGEND.map((t, i) => (
        <g key={t}>
          <rect x={legendX[i]} y={36} width={52} height={15} fill={legendBand[i]} />
          <line x1={legendX[i]} x2={legendX[i] + 52} y1={43.5} y2={43.5} stroke={legendLine[i]} strokeWidth={1.8} />
          <text x={legendX[i] + 62} y={48} fontSize={12} fontWeight={700} fontFamily={JP} fill={COL.text}>{t}</text>
        </g>
      ))}

      {SPECS.map((s) => <Panel key={s.id} s={s} />)}
      <MetreAxisD />
      <PanelM />

      {/* panel titles */}
      <Title x={78} y={89} t="(a)全球平均地表気温" subs={[SUB]} />
      <Title x={78} y={247} t="(b)全球平均海洋表層水温" subs={[SUB]} />
      <Title x={78} y={416} t="(c)海洋熱波の日数" subs={[SUB]} />
      <Title x={78} y={574} t="(d)海洋熱容量(水深0~2000m)" subs={["および相当する海面上昇（右軸）", SUB]} />
      <Title x={78} y={789} t="(e)グリーンランド氷床の消失" subs={[SLR, SUB]} />
      <Title x={78} y={918} t="(f)南極の氷床の消失" subs={[SLR, SUB]} />
      <Title x={78} y={1044} t="(g)氷河の消失" subs={[SLR, SUB]} />
      <Title x={568} y={128} t="(h)海洋表層の pH値" subs={[]} />
      <Title x={568} y={332} t="(i)海中の酸素濃度(水深100~600m)" subs={[SUB]} />
      <Title x={568} y={503} t="(j)北極海氷面積(9月)" subs={[SUB]} />
      <Title x={568} y={678} t="(k)北極の積雪面積(6月)" subs={[SUB]} />
      <Title x={568} y={835} t="(l)地表付近の永久凍土面積" subs={[SUB]} />
      <Title x={568} y={1043} t="(m)全球平均海面水位" subs={[SUB]} />

      {/* pH acidity arrow */}
      <line x1={592} x2={592} y1={143} y2={181} stroke="#999" strokeWidth={1.3} />
      <path d="M588,147 L592,140 L596,147" fill="none" stroke="#999" strokeWidth={1.3} />
      <path d="M588,177 L592,184 L596,177" fill="none" stroke="#999" strokeWidth={1.3} />
      <text x={612} y={155} fontSize={9.5} fontFamily={JP} fill="#666">低い酸性度</text>
      <text x={612} y={168} fontSize={9.5} fontFamily={JP} fill="#666">高い酸性度</text>

      {/* axis titles */}
      <VLabel x={26} y={140} t="°C" />
      <VLabel x={26} y={297} t="°C" />
      <VLabel x={26} y={470} t="増倍率" color="#7aa8d0" size={15} font={JP} />
      <VLabel x={26} y={622} t={<tspan>10<tspan dy={-5} fontSize={8}>21</tspan><tspan dy={5}> Joules</tspan></tspan>} size={11} />
      <VLabel x={508} y={614} t="metres" rot={90} size={11} />
      <VLabel x={30} y={820} t="metres" size={11} />
      <VLabel x={30} y={950} t="metres" size={11} />
      <VLabel x={30} y={1078} t="metres" size={11} />
      <VLabel x={1006} y={148} t="pH" rot={90} size={12} />
      <VLabel x={1004} y={300} t="%" rot={90} size={12} />
      <VLabel x={1004} y={468} t="%" rot={90} size={12} />
      <VLabel x={1004} y={628} t="%" rot={90} size={12} />
      <VLabel x={1004} y={782} t="%" rot={90} size={12} />
      <VLabel x={1006} y={1070} t="metres" rot={90} size={11} />
      <text x={252} y={732} textAnchor="middle" fontSize={12} fontWeight={700} fontFamily={NUM} fill={COL.text}>year</text>
      <text x={742} y={895} textAnchor="middle" fontSize={12} fontWeight={700} fontFamily={NUM} fill={COL.text}>year</text>
      <text x={222} y={1173} textAnchor="middle" fontSize={12} fontWeight={700} fontFamily={NUM} fill={COL.text}>year</text>
      <text x={512} y={1280} textAnchor="middle" fontSize={13} fontWeight={700} fontFamily={NUM} fill={COL.text}>year</text>

      {/* connectors */}
      <g fill="none" stroke="#9cc8e8" strokeWidth={1.2}>
        <path d="M487,548 H512 Q527,548 527,563 V727 Q527,741 512,741 H430" />
        <path d="M487,741 V935" />
        <path d="M64,750 H393 Q406,750 406,763 V1167 Q406,1180 393,1180 H64" />
        <path d="M406,957 H442" />
        <path d="M545,957 H625 Q640,957 640,972 V1016" />
      </g>
      <path d="M636,1015 L644,1015 L640,1023 Z" fill="#9cc8e8" />
      <text x={493} y={962} textAnchor="middle" fontSize={12.5} fontWeight={700} fontFamily={JP} fill="#222">一次的要因</text>
    </svg>
  );
}
